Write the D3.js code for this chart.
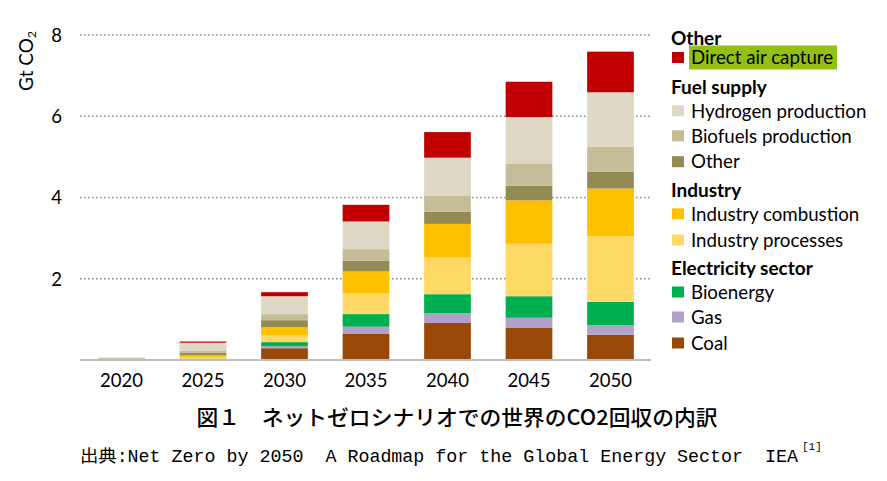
<!DOCTYPE html>
<html>
<head>
<meta charset="utf-8">
<script src="https://cdn.jsdelivr.net/npm/d3@7"></script>
<style>
  html, body { margin: 0; padding: 0; background: #ffffff; }
  svg { display: block; }
</style>
</head>
<body>
<svg id="chart" width="887" height="481"></svg>
<script>
// ---- Data (Gt CO2) ----
const years = ["2020", "2025", "2030", "2035", "2040", "2045", "2050"];
const coal       = [0.005, 0.02, 0.29, 0.64, 0.91, 0.80, 0.62];
const gas        = [0.0, 0.005, 0.05, 0.18, 0.24, 0.24, 0.24];
const bioenergy  = [0.0, 0.01, 0.10, 0.31, 0.47, 0.53, 0.57];
const indProc    = [0.0, 0.03, 0.16, 0.51, 0.90, 1.29, 1.62];
const indComb    = [0.0, 0.05, 0.21, 0.54, 0.83, 1.07, 1.17];
const fuelOther  = [0.03, 0.07, 0.17, 0.26, 0.30, 0.36, 0.41];
const biofuels   = [0.02, 0.05, 0.15, 0.29, 0.40, 0.55, 0.62];
const hydrogen   = [0.0, 0.19, 0.44, 0.68, 0.93, 1.14, 1.34];
const dac        = [0.0, 0.03, 0.10, 0.41, 0.63, 0.87, 1.00];

const yTicks = [2, 4, 6, 8];
const yTitle = "Gt CO";
const yTitleSub = "2";

const seriesNames = ["Coal", "Gas", "Bioenergy", "Industry processes", "Industry combustion",
                     "Other", "Biofuels production", "Hydrogen production", "Direct air capture"];
const seriesKeys = ["coal", "gas", "bioenergy", "indProc", "indComb", "fuelOther", "biofuels", "hydrogen", "dac"];
const seriesValues = [coal, gas, bioenergy, indProc, indComb, fuelOther, biofuels, hydrogen, dac];
const seriesColors = ["#984807", "#b1a0c7", "#00b050", "#ffd966", "#ffc000",
                      "#948a54", "#c4bd97", "#ddd9c4", "#c00000"];

// legend groups (top to bottom)
const legendGroups = [
  { title: "Other", items: ["dac"] },
  { title: "Fuel supply", items: ["hydrogen", "biofuels", "fuelOther"] },
  { title: "Industry", items: ["indComb", "indProc"] },
  { title: "Electricity sector", items: ["bioenergy", "gas", "coal"] }
];

const captionTitle = "図１　ネットゼロシナリオでの世界のCO2回収の内訳";
const captionSourceLabel = "出典:Net Zero by 2050  A Roadmap for the Global Energy Sector  IEA";
const captionSourceSup = "[1]";

// ---- Build table ----
const table = years.map((yr, i) => {
  const row = { year: yr };
  seriesKeys.forEach((k, j) => row[k] = seriesValues[j][i]);
  return row;
});

const svg = d3.select("#chart");
const font = "Lato, 'Open Sans', sans-serif";

const x = d3.scaleBand().domain(years).range([80.75, 651.25]).paddingInner(0.427).paddingOuter(0.2135);
const y = d3.scaleLinear().domain([0, 8]).range([360, 35]);

// gridlines
svg.append("g").selectAll("line").data(yTicks).join("line")
  .attr("x1", 80).attr("x2", 651)
  .attr("y1", d => y(d)).attr("y2", d => y(d))
  .attr("stroke", "#8c8c8c").attr("stroke-width", 1.6)
  .attr("stroke-dasharray", "1.6 2.4");

// y axis (labels only)
const yAxis = d3.axisLeft(y).tickValues(yTicks).tickSize(0).tickPadding(0).tickFormat(d3.format("d"));
const yg = svg.append("g").attr("transform", "translate(62,0)").call(yAxis);
yg.select(".domain").remove();
yg.selectAll("text").attr("font-family", font).attr("font-size", 18.5).attr("fill", "#000").attr("dy", "0.35em");

// stacked bars
const stack = d3.stack().keys(seriesKeys);
const stacked = stack(table);
svg.append("g").selectAll("g").data(stacked).join("g")
  .attr("fill", (d, i) => seriesColors[i])
  .selectAll("rect").data(d => d).join("rect")
  .attr("x", d => x(d.data.year))
  .attr("width", x.bandwidth())
  .attr("y", d => y(d[1]))
  .attr("height", d => Math.max(0, y(d[0]) - y(d[1])));

// baseline
svg.append("line").attr("x1", 80).attr("x2", 651).attr("y1", y(0)).attr("y2", y(0))
  .attr("stroke", "#bfbfbf").attr("stroke-width", 2);

// x axis labels
const xAxis = d3.axisBottom(x).tickSize(0).tickPadding(0);
const xg = svg.append("g").attr("transform", "translate(0,381)").call(xAxis);
xg.select(".domain").remove();
xg.selectAll("text").attr("font-family", font).attr("font-size", 18.5).attr("fill", "#000").attr("dy", "0.35em");

// y title
const yt = svg.append("text")
  .attr("transform", "translate(33,61) rotate(-90)")
  .attr("text-anchor", "middle")
  .attr("font-family", font).attr("font-size", 19).attr("fill", "#000");
yt.append("tspan").text(yTitle);
yt.append("tspan").attr("font-size", 12).attr("dy", 3).text(yTitleSub);

// legend
const headerBaselines = [45, 94, 197, 275];
const itemCenters = { dac: 57.5, hydrogen: 110.8, biofuels: 135.8, fuelOther: 161.7,
                      indComb: 213.8, indProc: 240, bioenergy: 292, gas: 317, coal: 343 };
const lg = svg.append("g");
legendGroups.forEach((g, gi) => {
  lg.append("text").attr("x", 671).attr("y", headerBaselines[gi])
    .attr("font-family", font).attr("font-weight", 700).attr("font-size", 19)
    .attr("fill", "#000").text(g.title);
  g.items.forEach(k => {
    const idx = seriesKeys.indexOf(k);
    const cy = itemCenters[k];
    if (k === "dac") {
      lg.append("rect").attr("x", 689).attr("y", cy - 12).attr("width", 148).attr("height", 24)
        .attr("fill", "#94bf14");
    }
    lg.append("rect").attr("x", 672).attr("y", cy - 5.5).attr("width", 12).attr("height", 11)
      .attr("fill", seriesColors[idx]);
    lg.append("text").attr("x", 691).attr("y", cy).attr("dy", "0.36em")
      .attr("font-family", font).attr("font-size", 18.7).attr("fill", "#000")
      .text(seriesNames[idx]);
  });
});

// captions
svg.append("text").attr("x", 457).attr("y", 425).attr("text-anchor", "middle")
  .attr("font-family", "'Noto Sans CJK JP', sans-serif").attr("font-size", 21)
  .attr("font-weight", 500).attr("fill", "#000")
  .attr("textLength", 521).attr("lengthAdjust", "spacingAndGlyphs")
  .text(captionTitle);

svg.append("text").attr("x", 80).attr("y", 462)
  .attr("font-family", "'Liberation Mono', 'Noto Sans CJK JP', monospace").attr("font-size", 17.5)
  .attr("fill", "#000")
  .style("white-space", "pre")
  .attr("textLength", 718).attr("lengthAdjust", "spacingAndGlyphs")
  .text(captionSourceLabel);
svg.append("text").attr("x", 802).attr("y", 450)
  .attr("font-family", "'Liberation Mono', monospace").attr("font-size", 11)
  .attr("fill", "#000").text(captionSourceSup);
</script>
</body>
</html>
